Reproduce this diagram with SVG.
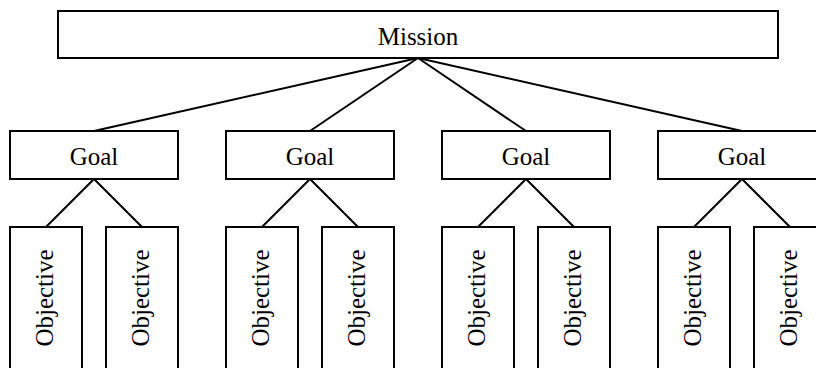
<svg xmlns="http://www.w3.org/2000/svg" width="816" height="368" viewBox="0 0 816 368">
<style>
.box{fill:#fff;stroke:#000;stroke-width:2}
.ln{stroke:#000;stroke-width:2;fill:none}
.t{font-family:'Liberation Serif','Times New Roman',Times,serif;font-size:25px;fill:#000;text-anchor:middle}
</style>
<rect width="816" height="368" fill="#fff"/>
<g id="connectors">
<line class="ln" x1="418" y1="58" x2="94" y2="131"/>
<line class="ln" x1="418" y1="58" x2="310" y2="131"/>
<line class="ln" x1="418" y1="58" x2="526" y2="131"/>
<line class="ln" x1="418" y1="58" x2="742" y2="131"/>
<polyline class="ln" points="46,227 94,179 142,227"/>
<polyline class="ln" points="262,227 310,179 358,227"/>
<polyline class="ln" points="478,227 526,179 574,227"/>
<polyline class="ln" points="694,227 742,179 790,227"/>
</g>
<g id="mission"><rect class="box" x="58" y="11" width="720" height="47"/><text class="t" font-family="Liberation Serif, serif" x="418" y="45">Mission</text></g>
<g id="goal1"><rect class="box" x="10" y="131" width="168" height="48"/><text class="t" font-family="Liberation Serif, serif" x="94" y="165">Goal</text></g>
<g id="goal2"><rect class="box" x="226" y="131" width="168" height="48"/><text class="t" font-family="Liberation Serif, serif" x="310" y="165">Goal</text></g>
<g id="goal3"><rect class="box" x="442" y="131" width="168" height="48"/><text class="t" font-family="Liberation Serif, serif" x="526" y="165">Goal</text></g>
<g id="goal4"><rect class="box" x="658" y="131" width="168" height="48"/><text class="t" font-family="Liberation Serif, serif" x="742" y="165">Goal</text></g>
<g id="obj1a"><rect class="box" x="10" y="227" width="72" height="160"/><text class="t" font-family="Liberation Serif, serif" transform="translate(53,298) rotate(-90)">Objective</text></g>
<g id="obj1b"><rect class="box" x="106" y="227" width="72" height="160"/><text class="t" font-family="Liberation Serif, serif" transform="translate(149,298) rotate(-90)">Objective</text></g>
<g id="obj2a"><rect class="box" x="226" y="227" width="72" height="160"/><text class="t" font-family="Liberation Serif, serif" transform="translate(269,298) rotate(-90)">Objective</text></g>
<g id="obj2b"><rect class="box" x="322" y="227" width="72" height="160"/><text class="t" font-family="Liberation Serif, serif" transform="translate(365,298) rotate(-90)">Objective</text></g>
<g id="obj3a"><rect class="box" x="442" y="227" width="72" height="160"/><text class="t" font-family="Liberation Serif, serif" transform="translate(485,298) rotate(-90)">Objective</text></g>
<g id="obj3b"><rect class="box" x="538" y="227" width="72" height="160"/><text class="t" font-family="Liberation Serif, serif" transform="translate(581,298) rotate(-90)">Objective</text></g>
<g id="obj4a"><rect class="box" x="658" y="227" width="72" height="160"/><text class="t" font-family="Liberation Serif, serif" transform="translate(701,298) rotate(-90)">Objective</text></g>
<g id="obj4b"><rect class="box" x="754" y="227" width="72" height="160"/><text class="t" font-family="Liberation Serif, serif" transform="translate(797,298) rotate(-90)">Objective</text></g>
</svg>
